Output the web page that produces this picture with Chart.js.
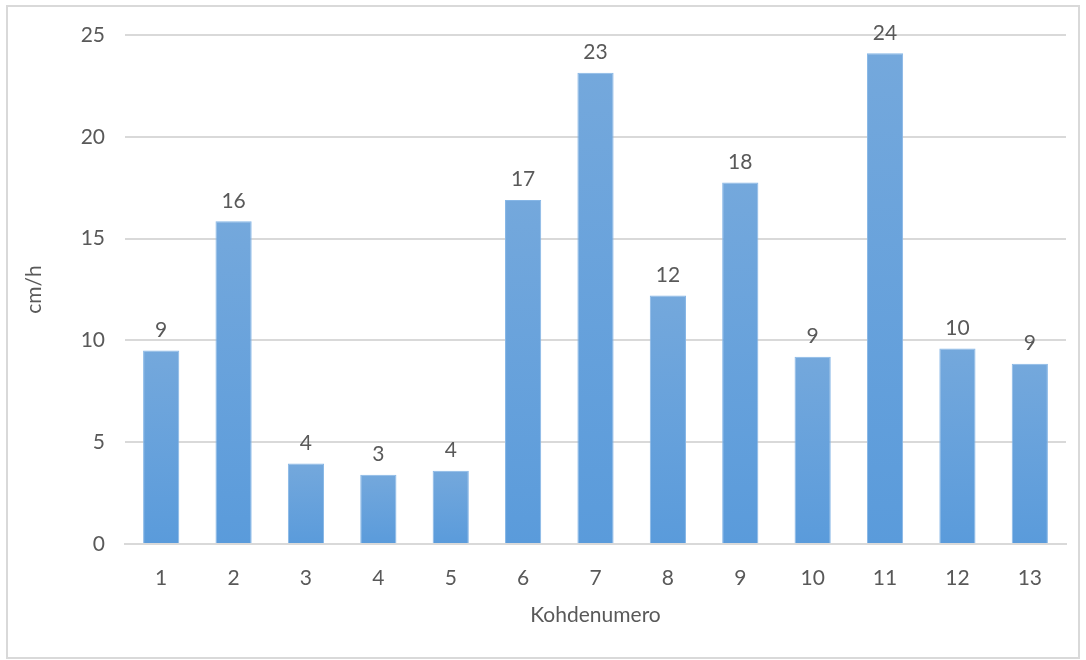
<!DOCTYPE html>
<html>
<head>
<meta charset="utf-8">
<script src="https://cdn.jsdelivr.net/npm/chart.js@4/dist/chart.umd.min.js"></script>
<style>
  html, body { margin: 0; padding: 0; background: #ffffff; }
  #wrap { position: absolute; left: 0; top: 0; width: 1086px; height: 660px; }
  #frame { position: absolute; left: 6px; top: 5px; width: 1070px; height: 650px; border: 2px solid #d9d9d9; pointer-events: none; }
</style>
</head>
<body>
<div id="wrap">
  <canvas id="chart" width="1086" height="660"></canvas>
  <div id="frame"></div>
</div>
<script>
// --- data ---
var categories = ['1', '2', '3', '4', '5', '6', '7', '8', '9', '10', '11', '12', '13'];
var values = [9.5, 15.85, 3.95, 3.4, 3.6, 16.9, 23.15, 12.2, 17.75, 9.2, 24.1, 9.6, 8.85];
var valueLabels = ['9', '16', '4', '3', '4', '17', '23', '12', '18', '9', '24', '10', '9'];
var yTicks = [0, 5, 10, 15, 20, 25];

var textColor = '#595959';
var gridColor = '#d9d9d9';
var fontFamily = 'Lato, "Open Sans", sans-serif';
var fontSize = 21;

// per-bar vertical gradient, lighter at the top
function barGradient(ctx) {
  var chart = ctx.chart;
  if (!chart.chartArea || !chart.scales.y) return '#5b9bd5';
  var yScale = chart.scales.y;
  var top = yScale.getPixelForValue(values[ctx.dataIndex]);
  var bottom = yScale.getPixelForValue(0);
  var g = chart.ctx.createLinearGradient(0, top, 0, bottom);
  g.addColorStop(0, '#74a8dc');
  g.addColorStop(1, '#5a9bdb');
  return g;
}

// value labels above each bar
var barLabels = {
  id: 'barLabels',
  afterDatasetsDraw: function(chart) {
    var meta = chart.getDatasetMeta(0);
    var c = chart.ctx;
    c.save();
    c.fillStyle = textColor;
    c.font = fontSize + 'px ' + fontFamily;
    c.textAlign = 'center';
    c.textBaseline = 'bottom';
    meta.data.forEach(function(bar, i) {
      c.fillText(valueLabels[i], bar.x, bar.y - 10);
    });
    c.restore();
  }
};

new Chart(document.getElementById('chart'), {
  type: 'bar',
  data: {
    labels: categories,
    datasets: [{
      data: values,
      backgroundColor: barGradient,
      borderColor: '#86b6e6',
      borderWidth: 1,
      categoryPercentage: 1,
      barPercentage: 0.5
    }]
  },
  options: {
    responsive: false,
    animation: false,
    layout: { padding: { left: 0, right: 20, top: 35, bottom: 0 } },
    plugins: {
      legend: { display: false },
      tooltip: { enabled: false }
    },
    scales: {
      x: {
        grid: { display: false, drawTicks: false },
        border: { color: gridColor, width: 2 },
        ticks: { color: textColor, font: { family: fontFamily, size: fontSize }, padding: 22 },
        title: { display: true, text: 'Kohdenumero', color: textColor, font: { family: fontFamily, size: fontSize }, padding: { top: 0, bottom: 32 } },
        afterFit: function(scale) { scale.height = 116; }
      },
      y: {
        min: 0,
        max: 25,
        afterBuildTicks: function(scale) {
          scale.ticks = yTicks.map(function(v) { return { value: v }; });
        },
        grid: { color: gridColor, lineWidth: 2, drawTicks: false },
        border: { display: false },
        ticks: { color: textColor, font: { family: fontFamily, size: fontSize }, padding: 20 },
        title: { display: true, text: 'cm/h', color: textColor, font: { family: fontFamily, size: fontSize }, padding: { top: 22 } },
        afterFit: function(scale) { scale.width = 125; }
      }
    }
  },
  plugins: [barLabels]
});
</script>
</body>
</html>
